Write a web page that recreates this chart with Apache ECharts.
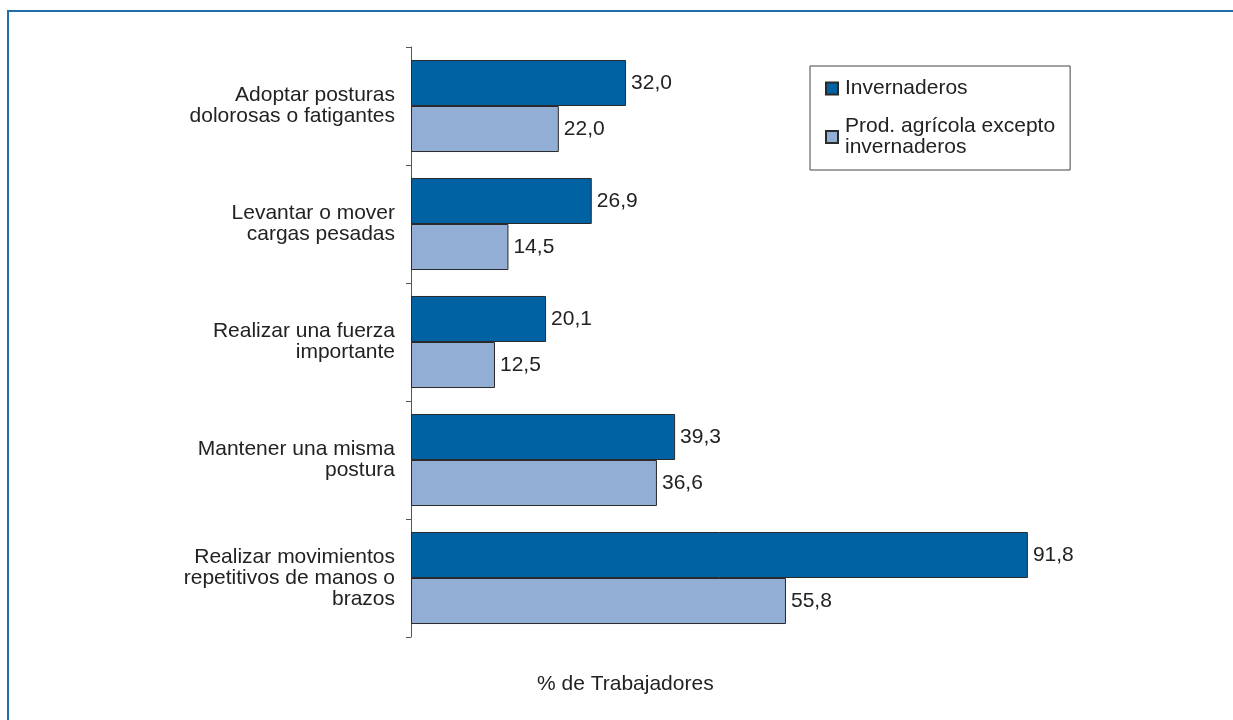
<!DOCTYPE html>
<html>
<head>
<meta charset="utf-8">
<script src="https://cdn.jsdelivr.net/npm/echarts@6/dist/echarts.min.js"></script>
<style>
  html, body { margin: 0; padding: 0; background: #fff; }
  #frame {
    position: absolute; left: 7px; top: 10px; width: 1226px; height: 710px;
    border-left: 2px solid #1f6fae; border-top: 2px solid #1f6fae;
  }
  #myChart { position: absolute; left: 0; top: 0; width: 1233px; height: 720px; }
</style>
</head>
<body>
<div id="frame"></div>
<div id="myChart"></div>
<script>
// categorías (de arriba a abajo)
var categorias = [
  'Adoptar posturas\ndolorosas o fatigantes',
  'Levantar o mover\ncargas pesadas',
  'Realizar una fuerza\nimportante',
  'Mantener una misma\npostura',
  'Realizar movimientos\nrepetitivos de manos o\nbrazos'
]
var invernaderos = [32.0, 26.9, 20.1, 39.3, 91.8]
var agricola = [22.0, 14.5, 12.5, 36.6, 55.8]
var nombres = ['Invernaderos', 'Prod. agrícola excepto\ninvernaderos']

var fuente = 'Liberation Sans, Arial, Helvetica, sans-serif'
var coma = function (p) { return p.value.toFixed(1).replace('.', ',') }

var myChart = echarts.init(document.getElementById('myChart'))
myChart.setOption({
  animation: false,
  textStyle: { fontFamily: fuente },
  title: {
    text: '% de Trabajadores',
    left: 532, top: 669,
    textStyle: { fontFamily: fuente, fontSize: 21, fontWeight: 'normal', color: '#222' }
  },
  legend: {
    orient: 'vertical',
    left: 810, top: 66,
    padding: [12, 15, 12, 15],
    itemGap: 17,
    itemWidth: 12, itemHeight: 12,
    borderColor: '#444', borderWidth: 1,
    textStyle: { fontFamily: fuente, fontSize: 21, color: '#222', lineHeight: 21, padding: [0, 0, 0, 2] },
    data: nombres.map(function (n) { return { name: n, icon: 'rect' } })
  },
  grid: { left: 411, right: 150, top: 47, bottom: 83 },
  xAxis: {
    type: 'value', min: 0, max: 100,
    show: false
  },
  yAxis: {
    type: 'category',
    inverse: true,
    data: categorias,
    axisLine: { lineStyle: { color: '#555', width: 1 } },
    axisTick: { show: true, length: 5, lineStyle: { color: '#555' } },
    axisLabel: {
      margin: 16, fontFamily: fuente, fontSize: 21, color: '#222',
      lineHeight: 21, align: 'right'
    }
  },
  series: [{
    name: nombres[0],
    type: 'bar',
    data: invernaderos,
    barGap: 0,
    barCategoryGap: '22%',
    itemStyle: { color: '#0062a3', borderColor: '#2a2a2a', borderWidth: 1 },
    label: {
      show: true, position: 'right', distance: 5, formatter: coma,
      fontFamily: fuente, fontSize: 21, color: '#222'
    }
  }, {
    name: nombres[1],
    type: 'bar',
    data: agricola,
    barGap: 0,
    barCategoryGap: '22%',
    itemStyle: { color: '#92aed4', borderColor: '#2a2a2a', borderWidth: 1 },
    label: {
      show: true, position: 'right', distance: 5, formatter: coma,
      fontFamily: fuente, fontSize: 21, color: '#222'
    }
  }]
})
</script>
</body>
</html>
